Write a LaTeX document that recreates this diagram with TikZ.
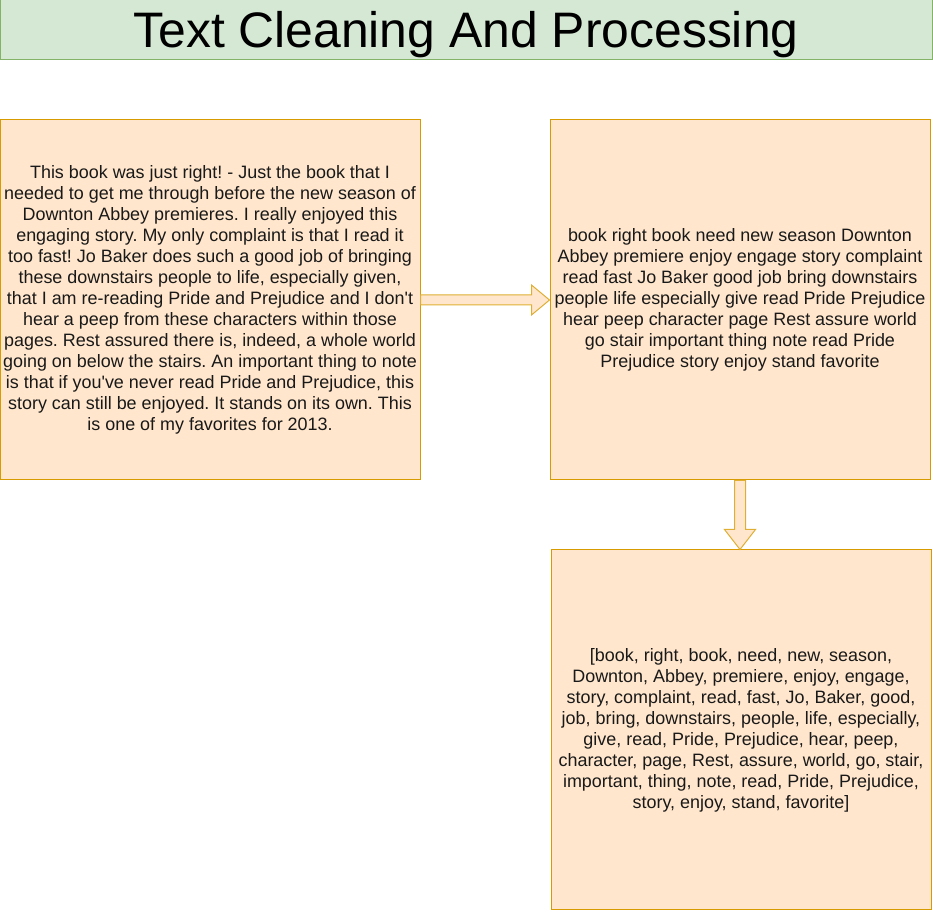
\documentclass[tikz,border=0pt]{standalone}
\usepackage{fontspec}
\setmainfont{Liberation Sans}
\usetikzlibrary{calc}

\definecolor{boxfill}{HTML}{FFE6CC}
\definecolor{boxline}{HTML}{D79B00}
\definecolor{titlefill}{HTML}{D5E8D4}
\definecolor{titleline}{HTML}{82B366}

\tikzset{
  textbox/.style={draw=boxline, fill=boxfill, line width=0.75pt, align=center, inner sep=0pt,
    minimum height=270pt, font=\fontsize{13.45}{15.75}\selectfont\frenchspacing, text=black!90},
  blockarrow/.style={draw=boxline!80, fill=boxfill, line width=0.75pt, line join=miter},
}

\begin{document}
\begin{tikzpicture}[x=0.75pt, y=-0.75pt]
        \useasboundingbox (0,0) rectangle (933,912);

        % Title
        \node[draw=titleline, fill=titlefill, line width=0.75pt, minimum width=699pt, minimum height=45pt,
          inner sep=0pt, text height=27pt, text depth=1pt, font=\fontsize{37.4}{40}\selectfont] (title) at (466,30) {Text Cleaning And Processing};

        % Raw review
        \node[textbox, minimum width=315pt] (raw) at (210,300) {This book was just right! - Just the book that I\\
needed to get me through before the new season of\\
Downton Abbey premieres. I really enjoyed this\\
engaging story. My only complaint is that I read it\\
too fast! Jo Baker does such a good job of bringing\\
these downstairs people to life, especially given,\\
that I am re-reading Pride and Prejudice and I don\textquotesingle t\\
hear a peep from these characters within those\\
pages. Rest assured there is, indeed, a whole world\\
going on below the stairs. An important thing to note\\
is that if you\textquotesingle ve never read Pride and Prejudice, this\\
story can still be enjoyed. It stands on its own. This\\
is one of my favorites for 2013.};

        % Cleaned text
        \node[textbox, minimum width=285pt] (clean) at (740,300) {book right book need new season Downton\\
Abbey premiere enjoy engage story complaint\\
read fast Jo Baker good job bring downstairs\\
people life especially give read Pride Prejudice\\
hear peep character page Rest assure world\\
go stair important thing note read Pride\\
Prejudice story enjoy stand favorite};

        % Token list
        \node[textbox, minimum width=285pt] (tokens) at (741,730) {[book, right, book, need, new, season,\\
Downton, Abbey, premiere, enjoy, engage,\\
story, complaint, read, fast, Jo, Baker, good,\\
job, bring, downstairs, people, life, especially,\\
give, read, Pride, Prejudice, hear, peep,\\
character, page, Rest, assure, world, go, stair,\\
important, thing, note, read, Pride, Prejudice,\\
story, enjoy, stand, favorite]};

        % raw -> clean
        \draw[blockarrow] ($(raw.east)+(0,-5)$) -- ($(clean.west)+(-18,-5)$) -- ($(clean.west)+(-18,-15)$)
          -- (clean.west) -- ($(clean.west)+(-18,15)$) -- ($(clean.west)+(-18,5)$) -- ($(raw.east)+(0,5)$) -- cycle;

        % clean -> tokens
        \coordinate (tip) at (clean.south |- tokens.north);
        \draw[blockarrow] ($(clean.south)+(-5.5,0)$) -- ($(tip)+(-5.5,-20)$) -- ($(tip)+(-15.5,-20)$)
          -- (tip) -- ($(tip)+(15.5,-20)$) -- ($(tip)+(5.5,-20)$) -- ($(clean.south)+(5.5,0)$) -- cycle;
      \end{tikzpicture}
\end{document}
